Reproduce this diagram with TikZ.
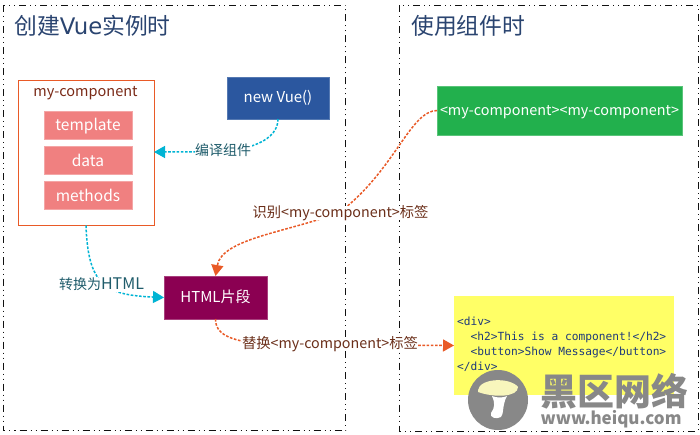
\documentclass[tikz,border=0pt]{standalone}
\usepackage{fontspec}
\setmainfont{Noto Sans CJK SC}
\setsansfont{Noto Sans CJK SC}
\setmonofont{DejaVu Sans Mono}
\newfontfamily\widelatin{DejaVu Sans}
\usetikzlibrary{arrows.meta}
\definecolor{frameblk}{HTML}{111111}
\definecolor{titleblue}{HTML}{2A4470}
\definecolor{orangeline}{HTML}{E95A27}
\definecolor{cyanline}{HTML}{00B4D4}
\definecolor{brownlab}{HTML}{6B2F1A}
\definecolor{teallab}{HTML}{1F5C6B}
\definecolor{salmon}{HTML}{F08080}
\definecolor{vueblue}{HTML}{2B579F}
\definecolor{greenbox}{HTML}{22B04D}
\definecolor{purplebox}{HTML}{8B0052}
\definecolor{yellowbox}{HTML}{FFFF66}
\definecolor{codeblue}{HTML}{1F3A7A}
\definecolor{wmgray}{HTML}{888888}
\tikzset{
  frameline/.style={draw=frameblk,line width=0.8pt,dash pattern=on 7pt off 4pt on 1pt off 4pt on 1pt off 4pt},
  basebox/.style={text height=13pt,text depth=3pt,inner sep=0pt,outer sep=0pt,text=white},
  salmonbox/.style={basebox,text height=14pt,text depth=2pt,fill=salmon,draw=salmon!70!white,line width=0.6pt,minimum width=88pt,minimum height=28pt,font=\fontsize{15.5}{18}\selectfont},
  cyanarrow/.style={draw=cyanline,line width=1.5pt,dash pattern=on 2.6pt off 1.6pt,-{Triangle[length=11pt,width=12pt,fill=cyanline]}},
  orangearrow/.style={draw=orangeline,line width=1.5pt,dash pattern=on 2.6pt off 1.6pt,-{Triangle[length=11pt,width=12pt,fill=orangeline]}},
  lablbrown/.style={fill=white,inner sep=0.5pt,text height=11pt,text depth=2pt,text=brownlab,font=\fontsize{14.3}{16}\selectfont},
  labteal/.style={fill=white,inner sep=0.5pt,text height=11pt,text depth=2pt,text=teallab,font=\fontsize{14}{16}\selectfont},
  titlenode/.style={text=titleblue,font=\fontsize{22.8}{26}\selectfont,anchor=west,inner sep=0pt}
}
\begin{document}
\begin{tikzpicture}[x=1pt,y=-1pt]
\useasboundingbox (0,0) rectangle (700,435);
\fill[white] (0,0) rectangle (700,435);
\draw[frameline] (3.5,5.5) rectangle (345.5,430.5);
\draw[frameline] (399.5,5.5) rectangle (698,431);
\node[titlenode] (t1) at (14,26) {创建{\widelatin Vue}实例时};
\node[titlenode] (t2) at (411,26) {使用组件时};
% my-component
\node[draw=orangeline,line width=0.8pt,fill=white,minimum width=135.5pt,minimum height=145pt,inner sep=0pt,outer sep=0pt,anchor=north west] (comp) at (18.5,80.5) {};
\node[text=brownlab!90!red,font=\fontsize{14.5}{17}\selectfont,inner sep=0pt] (compt) at (85.5,93) {my-component};
\node[salmonbox] (tpl) at (88,125) {template};
\node[salmonbox] (dat) at (88,160.5) {data};
\node[salmonbox] (met) at (88,195.5) {methods};
\node[basebox,fill=vueblue,draw=vueblue!80!white,line width=0.6pt,minimum width=102pt,minimum height=42pt,font=\fontsize{15}{17}\selectfont] (vue) at (278,98) {new Vue()};
\node[basebox,fill=greenbox,draw=greenbox!75!white,line width=0.6pt,minimum width=245pt,minimum height=49pt,font=\fontsize{14.4}{17}\selectfont] (green) at (559.5,110.5) {<my-component><my-component>};
\node[basebox,fill=purplebox,draw=purplebox!75!white,line width=0.6pt,minimum width=103pt,minimum height=43pt,font=\fontsize{15}{17}\selectfont] (html) at (215.5,297.5) {HTML片段};
\node[fill=yellowbox,minimum width=220pt,minimum height=99pt,inner sep=0pt,outer sep=0pt] (yel) at (564,345.5) {};
\node[anchor=north west,inner sep=0pt,align=left,text=codeblue,font=\ttfamily\fontsize{11.2}{15}\selectfont] (code) at (457,316.5) {<div>\\\hspace*{13.5pt}<h2>This is a component!</h2>\\\hspace*{13.5pt}<button>Show Message</button>\\</div>};
% connectors
\draw[cyanarrow] (vue.south) .. controls (278,140) and (250,152) .. (205,152) -- (comp.east |- 0,152);
\draw[cyanarrow] (comp.south -| 86,0) .. controls (88,285) and (105,295) .. (html.west);
\draw[orangearrow] (green.west) .. controls (410,111) and (395,170) .. (340,212) .. controls (290,232) and (222,238) .. (html.north);
\draw[orangearrow] (html.south) .. controls (215,340) and (245,345) .. (300,345) -- (yel.west);
% labels
\node[labteal] (l1) at (223,151) {编译组件};
\node[labteal] (l2) at (101.5,284.5) {转换为{\fontsize{16}{16}\selectfont HTML}};
\node[lablbrown] (l3) at (340.5,213.5) {识别<my-component>标签};
\node[lablbrown] (l4) at (330,344) {替换<my-component>标签};
% watermark
\fill[wmgray] (498,400) circle (30);
\fill[yellow!25!white,opacity=0.95] (478,390) .. controls (480,378) and (510,377) .. (518,387) .. controls (518,397) and (495,398) .. (478,392) -- cycle;
\fill[white] (492,396) .. controls (497,398) and (503,398) .. (507,396) .. controls (502,405) and (504,414) .. (501,417) .. controls (496,420) and (489,417) .. (491,413) .. controls (495,408) and (495,402) .. (492,396) -- cycle;
\node[text=wmgray,font=\fontsize{37}{38}\selectfont\bfseries,inner sep=0pt] (wm1) at (614,391) {黑区网络};
\node[text=wmgray,font=\fontsize{17}{18}\selectfont\bfseries\itshape,inner sep=0pt] (wm2) at (611,419) {www.heiqu.com};
\end{tikzpicture}
\end{document}
